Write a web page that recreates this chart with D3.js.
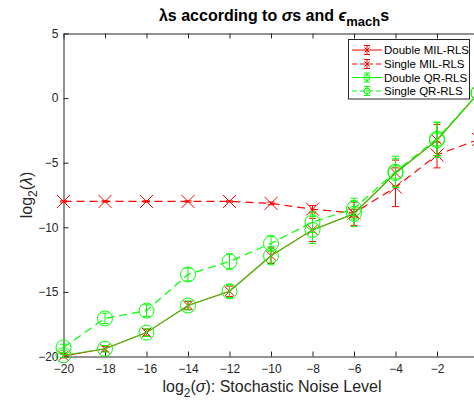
<!DOCTYPE html>
<html><head><meta charset="utf-8">
<script src="https://cdn.jsdelivr.net/npm/d3@7"></script>
<style>
html,body{margin:0;padding:0;background:#fff;}
svg{display:block;font-family:"Liberation Sans",Arial,Helvetica,sans-serif;}
</style></head>
<body>
<svg id="chart" width="474" height="403"></svg>
<script>
const sigmas = [-20,-18,-16,-14,-12,-10,-8,-6,-4,-2,0];
const doubleMIL    = [-19.95,-19.4,-18.15,-16.05,-14.95,-12.2,-10.2,-8.95,-5.8,-3.25,0.4];
const doubleMILErr = [0.15,0.2,0.25,0.3,0.4,0.6,0.9,0.9,1.0,1.2,0.8];
const singleMIL    = [-8,-8,-8,-8,-8,-8.15,-8.6,-8.9,-6.9,-4.4,-3.2];
const singleMILErr = [0.05,0.05,0.05,0.05,0.05,0.1,0.28,0.3,1.5,1.0,0.8];
const doubleQR     = [-19.9,-19.4,-18.15,-16.05,-14.95,-12.2,-10.2,-8.95,-5.8,-3.25,0.4];
const doubleQRErr  = [0.2,0.25,0.3,0.35,0.5,0.7,1.05,1.0,1.1,1.35,0.8];
const singleQR     = [-19.3,-17.05,-16.45,-13.65,-12.65,-11.25,-9.6,-8.55,-5.7,-3.15,0.4];
const singleQRErr  = [0.25,0.4,0.45,0.5,0.6,0.6,0.8,0.8,1.2,1.3,0.8];
const xTicks = [-20,-18,-16,-14,-12,-10,-8,-6,-4,-2];
const yTicks = [5,0,-5,-10,-15,-20];
const legendLabels = ["Double MIL-RLS","Single MIL-RLS","Double QR-RLS","Single QR-RLS"];

const svg = d3.select("#chart");
const x = d3.scaleLinear().domain([-20,0]).range([63.5,478.5]);
const y = d3.scaleLinear().domain([-20,5]).range([356.5,33.5]);
const axisColor = "#262626";

const series = [
  {vals: doubleMIL, err: doubleMILErr, color:"#ff0000", dash:null, marker:"x", ms:5, lineOp:1},
  {vals: singleMIL, err: singleMILErr, color:"#ff0000", dash:"8,5", marker:"x", ms:6.5, lineOp:1},
  {vals: doubleQR, err: doubleQRErr, color:"#00ff00", dash:null, marker:"o", ms:7.5, lineOp:0.8},
  {vals: singleQR, err: singleQRErr, color:"#00ff00", dash:"8,5", marker:"o", ms:7.5, lineOp:1}
];

// axes
const gx = svg.append("g").attr("transform","translate(0,356.5)")
  .call(d3.axisBottom(x).tickValues(xTicks).tickSizeInner(-5).tickSizeOuter(0).tickPadding(8));
const gt = svg.append("g").attr("transform","translate(0,33.5)")
  .call(d3.axisTop(x).tickValues(xTicks).tickSizeInner(-5).tickSizeOuter(0).tickFormat(""));
const gy = svg.append("g").attr("transform","translate(63.5,0)")
  .call(d3.axisLeft(y).tickValues(yTicks).tickSizeInner(-5).tickSizeOuter(0).tickPadding(5));
[gx,gt,gy].forEach(g=>{
  g.selectAll("path,line").attr("stroke",axisColor);
  g.selectAll("text").attr("fill",axisColor).style("font-size","12px").style("font-family","'Liberation Sans',Arial,sans-serif");
});

const plot = svg.append("g");
const line = vals => d3.line().x((d,i)=>x(sigmas[i])).y(d=>y(d))(vals);

series.forEach(s=>{
  const g = plot.append("g");
  g.append("path").attr("d", line(s.vals)).attr("fill","none")
    .attr("stroke", s.color).attr("stroke-width", s.dash?1.2:1.1)
    .attr("stroke-opacity", s.lineOp)
    .attr("stroke-dasharray", s.dash);
  s.vals.forEach((v,i)=>{
    const cx = x(sigmas[i]), cy = y(v);
    const y1 = y(v - s.err[i]), y2 = y(v + s.err[i]);
    g.append("line").attr("x1",cx).attr("x2",cx).attr("y1",y1).attr("y2",y2).attr("stroke",s.color).attr("stroke-width",1);
    [y1,y2].forEach(yy=>g.append("line").attr("x1",cx-3.5).attr("x2",cx+3.5).attr("y1",yy).attr("y2",yy).attr("stroke",s.color).attr("stroke-width",1));
    if (s.marker==="x") {
      const m = s.ms;
      g.append("path").attr("d",`M${cx-m},${cy-m}L${cx+m},${cy+m}M${cx-m},${cy+m}L${cx+m},${cy-m}`)
        .attr("stroke",s.color).attr("stroke-width",1).attr("fill","none");
    } else {
      g.append("circle").attr("cx",cx).attr("cy",cy).attr("r",s.ms).attr("fill","none")
        .attr("stroke",s.color).attr("stroke-width",1);
    }
  });
});

// legend
const lg = svg.append("g");
lg.append("rect").attr("x",348.5).attr("y",39.5).attr("width",121).attr("height",59.5)
  .attr("fill","#fff").attr("stroke",axisColor).attr("stroke-width",1);
const rowY = [50,64,77.5,91];
series.forEach((s,i)=>{
  const yy = rowY[i];
  lg.append("line").attr("x1",352).attr("x2",382).attr("y1",yy).attr("y2",yy)
    .attr("stroke",s.color).attr("stroke-width",1).attr("stroke-dasharray", s.dash? "5,3":null);
  lg.append("line").attr("x1",367).attr("x2",367).attr("y1",yy-4.5).attr("y2",yy+4.5).attr("stroke",s.color);
  [yy-4.5,yy+4.5].forEach(t=>lg.append("line").attr("x1",364).attr("x2",370).attr("y1",t).attr("y2",t).attr("stroke",s.color));
  if (s.marker==="x") {
    lg.append("path").attr("d",`M364.5,${yy-2.5}L369.5,${yy+2.5}M364.5,${yy+2.5}L369.5,${yy-2.5}`).attr("stroke",s.color);
  } else {
    lg.append("circle").attr("cx",367).attr("cy",yy).attr("r",3).attr("fill","none").attr("stroke",s.color);
  }
  lg.append("text").attr("x",384).attr("y",yy+4).text(legendLabels[i])
    .attr("fill","#000").style("font-size","11.5px");
});

// title
const title = svg.append("text").attr("x",274).attr("y",21).attr("text-anchor","middle")
  .attr("fill","#000").style("font-size","16px").style("font-weight","bold");
title.append("tspan").text("λ");
title.append("tspan").text("s according to ");
title.append("tspan").text("σ").style("font-style","italic");
title.append("tspan").text("s and ");
title.append("tspan").text("ϵ").style("font-style","italic");
title.append("tspan").text("mach").attr("dy",5).style("font-size","13px");
title.append("tspan").text("s").attr("dy",-5);

// x label
const xl = svg.append("text").attr("x",272).attr("y",392).attr("text-anchor","middle")
  .attr("fill",axisColor).style("font-size","16px");
xl.append("tspan").text("log");
xl.append("tspan").text("2").attr("dy",5).style("font-size","12px");
xl.append("tspan").text("(").attr("dy",-5);
xl.append("tspan").text("σ").style("font-style","italic");
xl.append("tspan").text("): Stochastic Noise Level");

// y label
const yl = svg.append("text").attr("transform","translate(32,195) rotate(-90)").attr("text-anchor","middle")
  .attr("fill",axisColor).style("font-size","16px");
yl.append("tspan").text("log");
yl.append("tspan").text("2").attr("dy",5).style("font-size","12px");
yl.append("tspan").text("(").attr("dy",-5);
yl.append("tspan").text("λ").style("font-style","italic");
yl.append("tspan").text(")");
</script>
</body></html>
